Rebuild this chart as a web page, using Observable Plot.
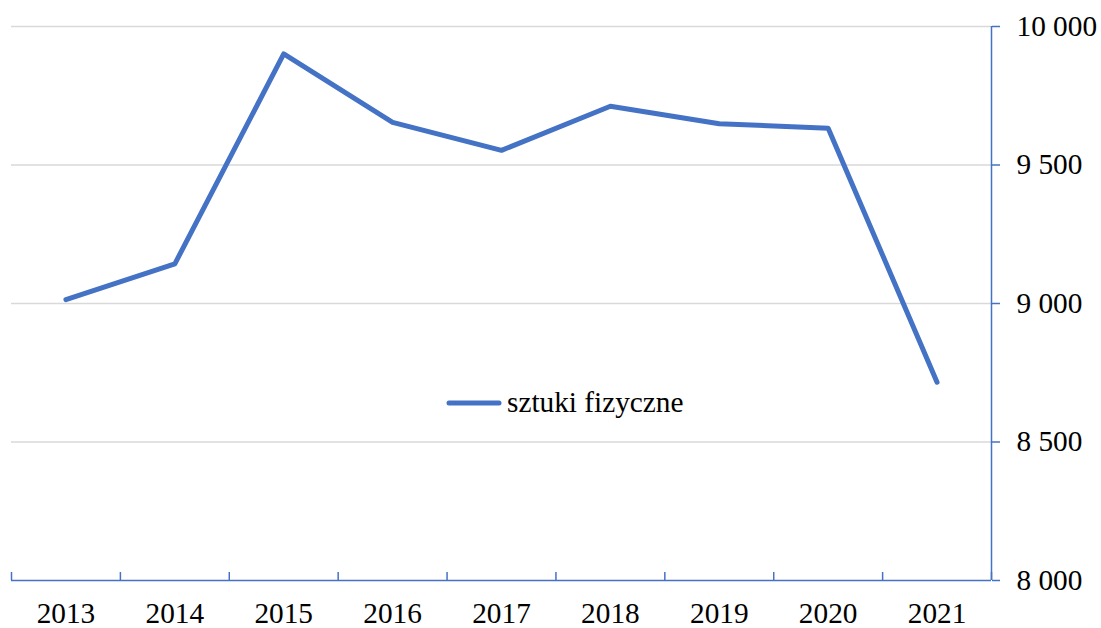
<!DOCTYPE html>
<html>
<head>
<meta charset="utf-8">
<script src="https://cdn.jsdelivr.net/npm/d3@7"></script>
<script src="https://cdn.jsdelivr.net/npm/@observablehq/plot@0.6"></script>
<style>
  body { margin: 0; background: #fff; }
  #wrap { position: relative; width: 1101px; height: 628px; }
  #wrap svg text { font-family: "Liberation Serif", "DejaVu Serif", serif !important; }
  #legend { position: absolute; left: 446px; top: 386px; display: flex; align-items: center;
    font-family: "Liberation Serif", "DejaVu Serif", serif; font-size: 29.3px; color: #000; }
  #legend svg { margin-right: 5px; }
</style>
</head>
<body>
<div id="wrap"><div id="legend"></div></div>
<script>
const years = [2013, 2014, 2015, 2016, 2017, 2018, 2019, 2020, 2021];
const values = [9014, 9143, 9901, 9654, 9553, 9712, 9649, 9633, 8716];
const seriesName = "sztuki fizyczne";
const yTicks = [8000, 8500, 9000, 9500, 10000];
const xBounds = [2012.5, 2013.5, 2014.5, 2015.5, 2016.5, 2017.5, 2018.5, 2019.5, 2020.5, 2021.5];

const blue = "#4472C4";
const data = years.map((y, i) => ({year: y, value: values[i]}));
const fmt = d => d3.format(",")(d).replace(/,/g, " ");

const chart = Plot.plot({
  width: 1101,
  height: 628,
  marginLeft: 11,
  marginRight: 110,
  marginTop: 26,
  marginBottom: 48,
  style: {fontFamily: "Liberation Serif, DejaVu Serif, serif", fontSize: "29.3px", color: "#000", background: "#fff"},
  x: {domain: [xBounds[0], xBounds[xBounds.length - 1]]},
  y: {domain: [8000, 10000]},
  marks: [
    Plot.ruleY(yTicks.filter(d => d > 8000), {stroke: "#d9d9d9", strokeWidth: 1.5}),
    Plot.ruleY([8000], {stroke: blue, strokeWidth: 1.5}),
    Plot.ruleX([xBounds[xBounds.length - 1]], {stroke: blue, strokeWidth: 1.5}),
    Plot.axisX({ticks: xBounds, tickSize: 8, dy: -8, tickFormat: () => "", stroke: blue, strokeWidth: 1.5, label: null}),
    Plot.axisX({ticks: years, tickSize: 0, tickPadding: 22, tickFormat: d => String(d), fill: "#000", label: null}),
    Plot.axisY({anchor: "right", ticks: yTicks, tickSize: 8, tickPadding: 17, tickFormat: fmt, stroke: blue, strokeWidth: 1.5, fill: "#000", label: null, textAnchor: "start"}),
    Plot.line(data, {x: "year", y: "value", stroke: blue, strokeWidth: 5, strokeLinecap: "round", strokeLinejoin: "round"})
  ]
});
document.getElementById("wrap").prepend(chart);

const legend = document.getElementById("legend");
legend.innerHTML = `<svg width="56" height="10"><line x1="3" y1="5" x2="53" y2="5" stroke="${blue}" stroke-width="5" stroke-linecap="round"/></svg><span></span>`;
legend.querySelector("span").textContent = seriesName;
</script>
</body>
</html>
